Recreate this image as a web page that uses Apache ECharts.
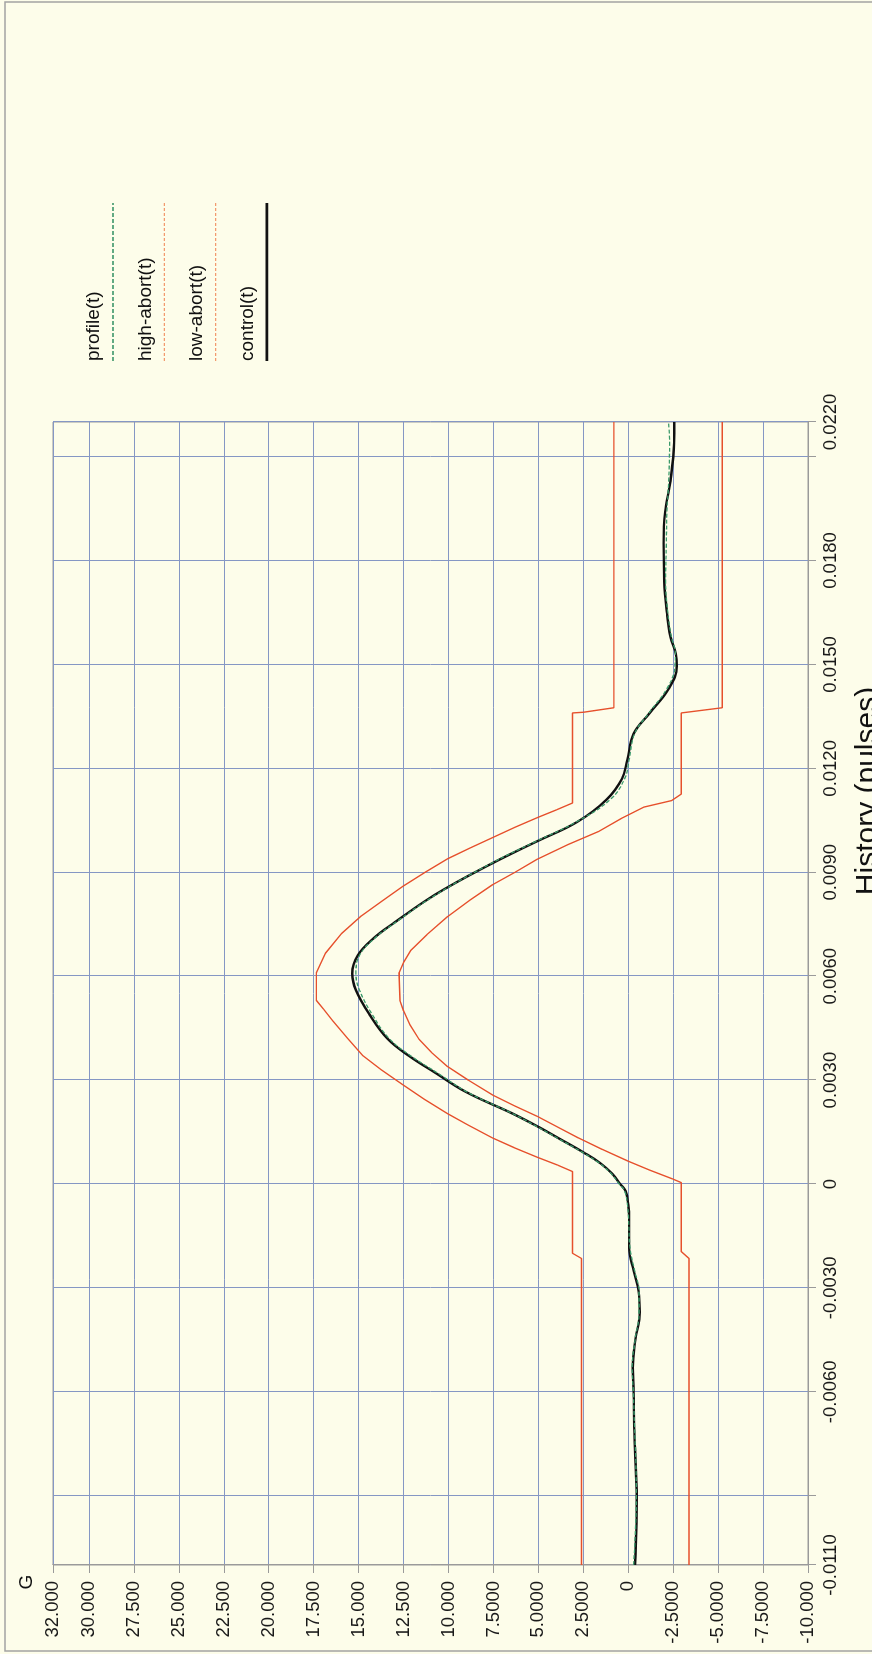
<!DOCTYPE html>
<html>
<head>
<meta charset="utf-8">
<script src="https://cdn.jsdelivr.net/npm/echarts@6.0.0/dist/echarts.min.js"></script>
<style>
html, body { margin: 0; padding: 0; width: 872px; height: 1654px; overflow: hidden; background: #fdfdea; }
#chart { position: absolute; left: 0; top: 0; width: 1654px; height: 872px;
         transform-origin: 0 0; transform: translate(0, 1654px) rotate(-90deg); }
</style>
</head>
<body>
<div id="chart"></div>
<script>
// ---------------- data (time in seconds, acceleration in G) ----------------
const seriesNames = ['profile(t)', 'high-abort(t)', 'low-abort(t)', 'control(t)'];
const xAxisTitle = 'History (pulses)';
const yAxisTitle = 'G';

const xTickValues  = [-0.011, -0.009, -0.006, -0.003, 0, 0.003, 0.006, 0.009, 0.012, 0.015, 0.018, 0.021, 0.022];
const xLabelValues = [-0.011, -0.006, -0.003, 0, 0.003, 0.006, 0.009, 0.012, 0.015, 0.018, 0.022];
const yTickValues  = [-10, -7.5, -5, -2.5, 0, 2.5, 5, 7.5, 10, 12.5, 15, 17.5, 20, 22.5, 25, 27.5, 30, 32];

const controlT = [-0.011, -0.010, -0.009, -0.008, -0.007, -0.006, -0.0053, -0.0045, -0.0037, -0.0031,
  -0.0025, -0.00185, -0.0010, -0.0006, -0.0002, 0, 0.0003, 0.0006, 0.0009, 0.0013,
  0.00165, 0.00205, 0.00265, 0.0032, 0.0037, 0.0042, 0.0049, 0.0056, 0.00607, 0.0066,
  0.0071, 0.00755, 0.00835, 0.00925, 0.0099, 0.01045, 0.0111, 0.0117, 0.01225, 0.0130,
  0.0136, 0.0143, 0.01495, 0.0153, 0.0158, 0.0165, 0.0174, 0.0185, 0.0194, 0.0203,
  0.0214, 0.022];
const controlG = [-0.38, -0.45, -0.47, -0.40, -0.33, -0.30, -0.25, -0.40, -0.64, -0.58,
  -0.30, -0.05, -0.05, 0.0, 0.15, 0.45, 0.9, 1.55, 2.45, 3.8,
  5.0, 6.5, 9.0, 10.7, 12.2, 13.4, 14.4, 15.15, 15.35, 15.05,
  14.15, 13.0, 10.75, 7.6, 5.05, 2.85, 1.2, 0.35, 0.05, -0.3,
  -1.2, -2.25, -2.7, -2.65, -2.35, -2.15, -2.0, -1.97, -2.05, -2.35,
  -2.55, -2.56];

const profileT = controlT;
const profileG = [-0.30, -0.40, -0.45, -0.42, -0.35, -0.28, -0.22, -0.38, -0.60, -0.60,
  -0.35, -0.10, -0.02, 0.05, 0.20, 0.50, 0.95, 1.6, 2.5, 3.85,
  5.05, 6.5, 8.95, 10.6, 12.1, 13.3, 14.25, 14.95, 15.15, 14.95,
  14.1, 12.95, 10.7, 7.65, 5.1, 2.9, 1.0, 0.2, -0.05, -0.35,
  -1.15, -2.15, -2.6, -2.62, -2.4, -2.2, -2.08, -2.12, -2.15, -2.25,
  -2.3, -2.24];

const highAbortT = [-0.011, -0.00215, -0.0020, 0.00036, 0.00055, 0.00077, 0.00105, 0.00133, 0.0017, 0.00203,
  0.00245, 0.00287, 0.0033, 0.0037, 0.0042, 0.00472, 0.00505, 0.0053, 0.0061, 0.00666,
  0.00723, 0.00774, 0.00815, 0.00859, 0.0090, 0.00939, 0.0097, 0.0100, 0.0103, 0.01058,
  0.0108, 0.0110, 0.0136, 0.01362, 0.01375, 0.022];
const highAbortG = [2.6, 2.6, 3.1, 3.1, 3.95, 5.05, 6.35, 7.55, 8.9, 10.05,
  11.35, 12.55, 13.75, 14.75, 15.6, 16.45, 16.95, 17.35, 17.35, 16.85,
  15.95, 14.85, 13.75, 12.55, 11.3, 10.05, 8.8, 7.55, 6.3, 5.05,
  4.0, 3.1, 3.1, 2.5, 0.8, 0.8];

const lowAbortT = [-0.011, -0.00215, -0.00195, 0.00004, 0.00015, 0.0004, 0.00067, 0.0010, 0.00133, 0.00165,
  0.00195, 0.00225, 0.00257, 0.0030, 0.00339, 0.0038, 0.00418, 0.0046, 0.0050, 0.0053,
  0.0061, 0.0064, 0.00675, 0.0072, 0.00772, 0.0082, 0.00864, 0.0090, 0.00938, 0.0098,
  0.01018, 0.01055, 0.01088, 0.01107, 0.01126, 0.0136, 0.01375, 0.022];
const lowAbortG = [-3.38, -3.38, -2.95, -2.95, -2.45, -1.2, 0.05, 1.45, 2.77, 3.95,
  5.05, 6.3, 7.55, 8.9, 10.05, 10.95, 11.64, 12.15, 12.5, 12.7,
  12.75, 12.5, 12.09, 11.2, 10.05, 8.8, 7.55, 6.3, 5.05, 3.35,
  1.64, 0.4, -0.86, -2.41, -2.95, -2.95, -5.23, -5.23];

// ---------------- styling ----------------
const FONT = '"Liberation Sans", Arial, Helvetica, sans-serif';
const ABORT_COLOR = '#e6502c';
const GRID_COLOR = '#8597c4';
const legendColors = ['#2f8f60', '#f29a6e', '#f29a6e', '#111111'];
const legendWidths = [1.3, 1.3, 1.3, 2.6];
const legendDash   = [[4, 2], [3, 2], [3, 2], null];

const pairs = (t, g) => t.map((v, i) => [v, g[i]]);

const legendGraphics = seriesNames.map((name, i) => ({
  type: 'group',
  silent: true,
  children: [
    { type: 'text', x: 1293, y: 94 + i * 51.3,
      style: { text: name, fontSize: 19, fontFamily: FONT, fill: '#111', verticalAlign: 'middle', align: 'left' } },
    { type: 'line', shape: { x1: 1293, y1: 113 + i * 51.3, x2: 1451, y2: 113 + i * 51.3 },
      style: { stroke: legendColors[i], lineWidth: legendWidths[i], lineDash: legendDash[i] } }
  ]
}));

const chart = echarts.init(document.getElementById('chart'), null, { renderer: 'canvas' });
chart.setOption({
  backgroundColor: '#fdfdea',
  animation: false,
  textStyle: { fontFamily: FONT },
  grid: { left: 89, right: 422, top: 53, bottom: 64, containLabel: false, outerBoundsMode: 'none',
          show: true, borderColor: '#9a9a9a', borderWidth: 1, backgroundColor: 'transparent' },
  xAxis: {
    type: 'value', min: -0.011, max: 0.022,
    name: xAxisTitle, nameLocation: 'middle', nameGap: 45,
    nameTextStyle: { fontSize: 30, color: '#111', fontFamily: FONT, padding: [0, 0, 0, 405] },
    axisLine: { show: true, onZero: false, lineStyle: { color: '#9a9a9a', width: 1 } },
    axisTick: { show: true, length: 8, customValues: xTickValues, lineStyle: { color: '#9a9a9a' } },
    axisLabel: { customValues: xLabelValues, margin: 13, fontSize: 18.5, color: '#1a1a1a', fontFamily: FONT,
                 formatter: v => Math.abs(v) < 1e-12 ? '0' : v.toFixed(4) },
    splitLine: { show: true, lineStyle: { color: GRID_COLOR, width: 1 } }
  },
  yAxis: {
    type: 'value', min: -10, max: 32,
    axisLine: { show: true, onZero: false, lineStyle: { color: '#9a9a9a', width: 1 } },
    axisTick: { show: true, length: 8, customValues: yTickValues, lineStyle: { color: '#9a9a9a' } },
    axisLabel: { customValues: yTickValues, margin: 16, fontSize: 18.5, color: '#1a1a1a', fontFamily: FONT,
                 formatter: v => v === 0 ? '0' : v.toPrecision(5) },
    splitLine: { show: true, lineStyle: { color: GRID_COLOR, width: 1 } }
  },
  graphic: [
    { type: 'rect', silent: true, z: 100, shape: { x: 3, y: 5, width: 1649, height: 900 },
      style: { fill: 'transparent', stroke: '#a3a3a3', lineWidth: 1.5 } },
    { type: 'text', silent: true, x: 72, y: 27,
      style: { text: yAxisTitle, fontSize: 19, fontFamily: FONT, fill: '#111', align: 'center', verticalAlign: 'middle' } },
    ...legendGraphics
  ],
  series: [
    { name: seriesNames[1], type: 'line', showSymbol: false, smooth: false, z: 2,
      data: pairs(highAbortT, highAbortG), lineStyle: { color: ABORT_COLOR, width: 1.4 } },
    { name: seriesNames[2], type: 'line', showSymbol: false, smooth: false, z: 2,
      data: pairs(lowAbortT, lowAbortG), lineStyle: { color: ABORT_COLOR, width: 1.4 } },
    { name: seriesNames[3], type: 'line', showSymbol: false, smooth: 0.4, z: 3,
      data: pairs(controlT, controlG), lineStyle: { color: '#111111', width: 2.4 } },
    { name: seriesNames[0], type: 'line', showSymbol: false, smooth: 0.4, z: 4,
      data: pairs(profileT, profileG), lineStyle: { color: '#3a9a6a', width: 1.3, type: [4, 2] } }
  ]
});
</script>
</body>
</html>
